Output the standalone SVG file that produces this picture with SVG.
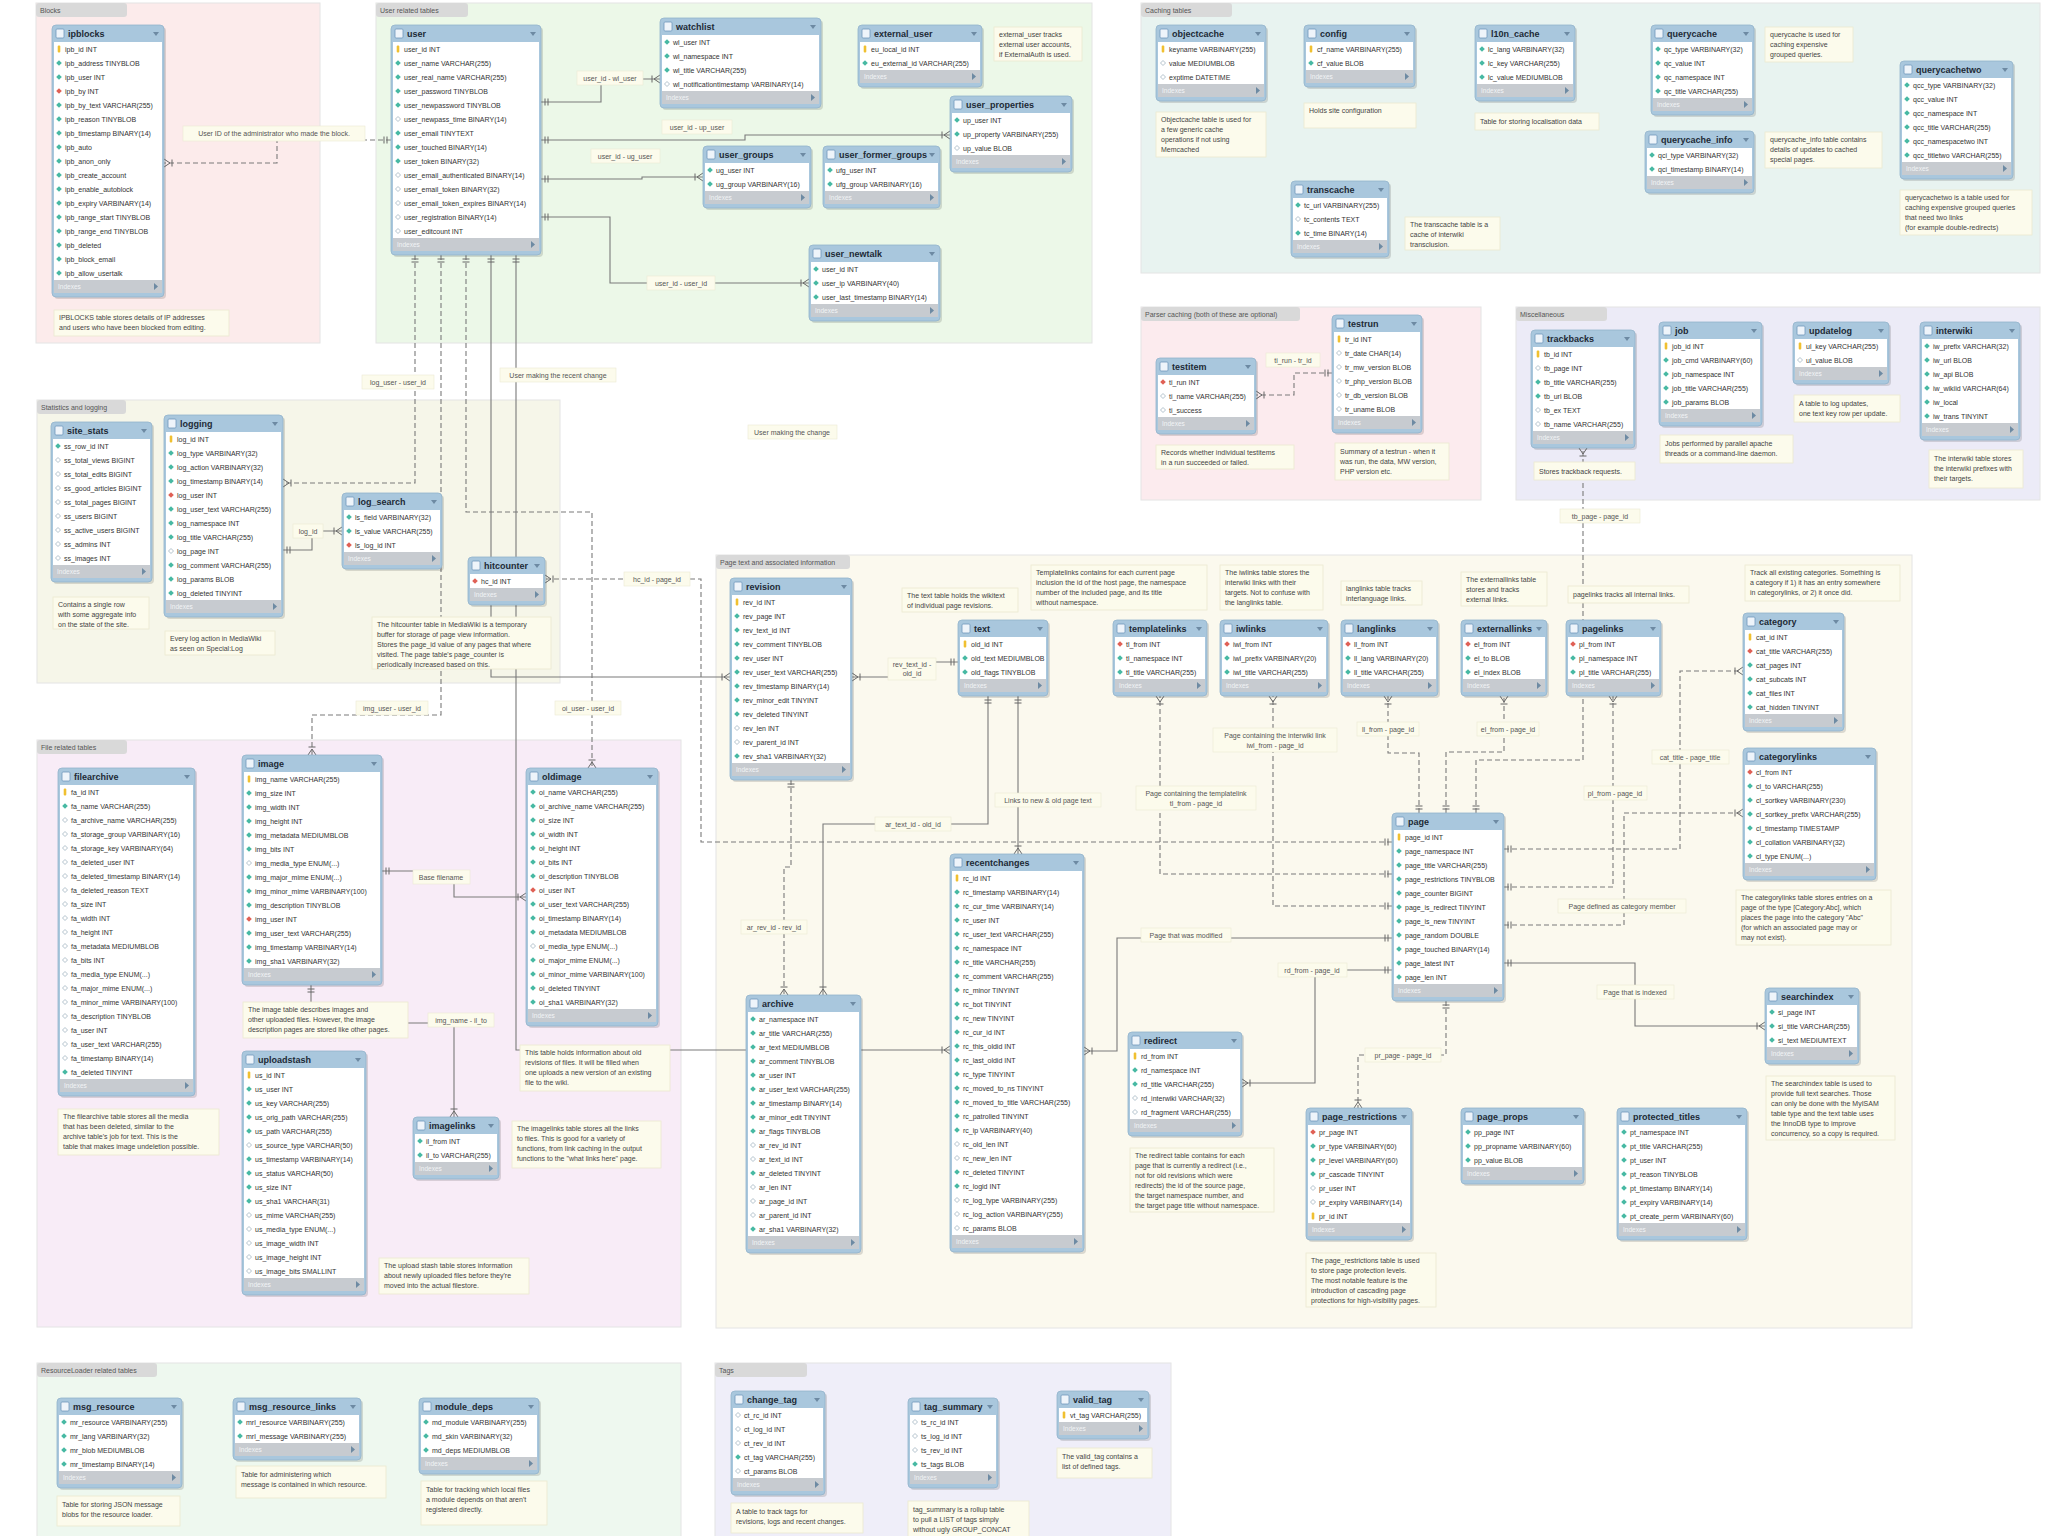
<svg xmlns="http://www.w3.org/2000/svg" xmlns:xlink="http://www.w3.org/1999/xlink" width="2048" height="1536" viewBox="0 0 2048 1536">
<style>
text{font-family:"Liberation Sans",Arial,sans-serif}
.gb{stroke:#e4e4e4;stroke-width:1}
.gt{fill:#d9d9d9}
.gtx{font-size:7px;fill:#555}
.sh{fill:#000;opacity:.13}
.tf{fill:#a9c7dd;stroke:#93b4cc;stroke-width:.8}
.tb{fill:#fff}
.ic{fill:#eef4fa;stroke:#6f98bb;stroke-width:.8}
.tn{font-size:9px;font-weight:bold;fill:#1d2a36}
.dd,.fa{fill:#6d8aa3}
.r{font-size:7px;fill:#333}
.ft{fill:#c7cbd0}
.ix{font-size:6.5px;fill:#f2f4f6}
.nb{fill:#fcfbec;stroke:#ebe9d0;stroke-width:.8}
.nt{font-size:7px;fill:#444}
.lb{fill:#fcfbec;stroke:#ebe9d4;stroke-width:.6}
.lt{font-size:7px;fill:#555}
.c,.cd{fill:none;stroke:#7a7a7a;stroke-width:1.1;marker-start:url(#mo);marker-end:url(#mf)}
.cd{stroke-dasharray:5 3}
</style>
<defs>
<rect id="k" x="-1.3" y="-3.5" width="2.6" height="7" rx="1" fill="#f0c030"/>
<path id="d" d="M0,-2.8L2.8,0L0,2.8L-2.8,0Z" fill="#47b9a3"/>
<path id="h" d="M0,-2.5L2.5,0L0,2.5L-2.5,0Z" fill="none" stroke="#9fb3bf" stroke-width=".8"/>
<path id="r" d="M0,-2.8L2.8,0L0,2.8L-2.8,0Z" fill="#e06055"/>
<marker id="mf" viewBox="0 0 12 10" refX="12" refY="5" markerWidth="12" markerHeight="10" markerUnits="userSpaceOnUse" orient="auto"><path d="M12,1L6,5L12,9M4,1.5V8.5" fill="none" stroke="#666" stroke-width="1"/></marker>
<marker id="mo" viewBox="0 0 10 10" refX="0" refY="5" markerWidth="10" markerHeight="10" markerUnits="userSpaceOnUse" orient="auto"><path d="M4,1.5V8.5M7,1.5V8.5" fill="none" stroke="#666" stroke-width="1"/></marker>
</defs>
<rect width="2048" height="1536" fill="#fff"/>

<g id="groups">
<rect class="gb" x="36" y="3" width="284" height="340" fill="#fcebeb"/><rect class="gt" x="36" y="3" width="91" height="14" rx="3"/><text class="gtx" x="40" y="13">Blocks</text>
<rect class="gb" x="376" y="3" width="716" height="340" fill="#ecf8e8"/><rect class="gt" x="376" y="3" width="92" height="14" rx="3"/><text class="gtx" x="380" y="13">User related tables</text>
<rect class="gb" x="1141" y="3" width="899" height="270" fill="#e8f3f0"/><rect class="gt" x="1141" y="3" width="91" height="14" rx="3"/><text class="gtx" x="1145" y="13">Caching tables</text>
<rect class="gb" x="1141" y="307" width="340" height="193" fill="#fcebee"/><rect class="gt" x="1141" y="307" width="159" height="14" rx="3"/><text class="gtx" x="1145" y="317">Parser caching (both of these are optional)</text>
<rect class="gb" x="1516" y="307" width="524" height="193" fill="#ecebf7"/><rect class="gt" x="1516" y="307" width="91" height="14" rx="3"/><text class="gtx" x="1520" y="317">Miscellaneous</text>
<rect class="gb" x="37" y="400" width="523" height="283" fill="#f6f6e9"/><rect class="gt" x="37" y="400" width="89" height="14" rx="3"/><text class="gtx" x="41" y="410">Statistics and logging</text>
<rect class="gb" x="716" y="555" width="1196" height="773" fill="#fbf9ee"/><rect class="gt" x="716" y="555" width="134" height="14" rx="3"/><text class="gtx" x="720" y="565">Page text and associated information</text>
<rect class="gb" x="37" y="740" width="644" height="587" fill="#f8ecf7"/><rect class="gt" x="37" y="740" width="90" height="14" rx="3"/><text class="gtx" x="41" y="750">File related tables</text>
<rect class="gb" x="37" y="1363" width="644" height="180" fill="#eef8ef"/><rect class="gt" x="37" y="1363" width="120" height="14" rx="3"/><text class="gtx" x="41" y="1373">ResourceLoader related tables</text>
<rect class="gb" x="715" y="1363" width="456" height="180" fill="#efeef9"/><rect class="gt" x="715" y="1363" width="92" height="14" rx="3"/><text class="gtx" x="719" y="1373">Tags</text>
</g>

<g id="connectors">
<path class="cd" d="M391,140H277V163H164"/>
<path class="c" d="M541,102H601V79H660"/>
<path class="c" d="M541,140H745V135H950"/>
<path class="c" d="M541,179H642V177H703"/>
<path class="c" d="M541,217H610V283H809"/>
<path class="cd" d="M415,255V483H283"/>
<path class="cd" d="M441,255V715H312V755"/>
<path class="cd" d="M466,255V512H592V768"/>
<path class="c" d="M491,255V677H730"/>
<path class="c" d="M516,255V1050H950"/>
<path class="c" d="M283,550H312V531H342"/>
<path class="cd" d="M1392,842H701V579H545"/>
<path class="c" d="M958,662H912V677H852"/>
<path class="c" d="M988,696V824H823V995"/>
<path class="c" d="M1018,696V854"/>
<path class="cd" d="M791,780V867H784V995"/>
<path class="cd" d="M1392,874H1160V696"/>
<path class="cd" d="M1392,906H1273V696"/>
<path class="cd" d="M1419,813V753H1388V696"/>
<path class="cd" d="M1446,813V752H1504V696"/>
<path class="cd" d="M1476,813V760H1583V448"/>
<path class="cd" d="M1504,887H1613V696"/>
<path class="cd" d="M1504,849H1680V671H1743"/>
<path class="cd" d="M1504,925H1624V813H1743"/>
<path class="c" d="M1392,938H1117V1051H1084"/>
<path class="c" d="M1392,970H1315V1083H1242"/>
<path class="c" d="M1504,963H1635V1026H1765"/>
<path class="cd" d="M1446,1001V1055H1358V1108"/>
<path class="cd" d="M1332,373H1294V395H1256"/>
<path class="c" d="M382,871H454V897H526"/>
<path class="c" d="M311,985V1023H454V1117"/>
<g id="conn-labels">
<rect class="lb" x="183" y="126" width="182" height="15"/><text class="lt" x="274" y="136" text-anchor="middle">User ID of the administrator who made the block.</text>
<rect class="lb" x="577" y="71" width="66" height="14"/><text class="lt" x="610" y="81" text-anchor="middle">user_id - wl_user</text>
<rect class="lb" x="662" y="120" width="70" height="14"/><text class="lt" x="697" y="130" text-anchor="middle">user_id - up_user</text>
<rect class="lb" x="591" y="149" width="69" height="14"/><text class="lt" x="625" y="159" text-anchor="middle">user_id - ug_user</text>
<rect class="lb" x="647" y="276" width="68" height="14"/><text class="lt" x="681" y="286" text-anchor="middle">user_id - user_id</text>
<rect class="lb" x="362" y="375" width="72" height="14"/><text class="lt" x="398" y="385" text-anchor="middle">log_user - user_id</text>
<rect class="lb" x="356" y="701" width="72" height="14"/><text class="lt" x="392" y="711" text-anchor="middle">img_user - user_id</text>
<rect class="lb" x="555" y="701" width="66" height="14"/><text class="lt" x="588" y="711" text-anchor="middle">oi_user - user_id</text>
<rect class="lb" x="500" y="368" width="116" height="14"/><text class="lt" x="558" y="378" text-anchor="middle">User making the recent change</text>
<rect class="lb" x="748" y="425" width="89" height="14"/><text class="lt" x="792" y="435" text-anchor="middle">User making the change</text>
<rect class="lb" x="293" y="524" width="30" height="14"/><text class="lt" x="308" y="534" text-anchor="middle">log_id</text>
<rect class="lb" x="624" y="572" width="66" height="14"/><text class="lt" x="657" y="582" text-anchor="middle">hc_id - page_id</text>
<rect class="lb" x="888" y="658" width="48" height="22"/><text class="lt" x="912" y="667" text-anchor="middle">rev_text_id -<tspan x="912" dy="9">old_id</tspan></text>
<rect class="lb" x="875" y="817" width="76" height="14"/><text class="lt" x="913" y="827" text-anchor="middle">ar_text_id - old_id</text>
<rect class="lb" x="995" y="793" width="106" height="14"/><text class="lt" x="1048" y="803" text-anchor="middle">Links to new &amp; old page text</text>
<rect class="lb" x="741" y="920" width="66" height="14"/><text class="lt" x="774" y="930" text-anchor="middle">ar_rev_id - rev_id</text>
<rect class="lb" x="1136" y="786" width="120" height="24"/><text class="lt" x="1196" y="796" text-anchor="middle">Page containing the templatelink<tspan x="1196" dy="10">tl_from - page_id</tspan></text>
<rect class="lb" x="1213" y="728" width="124" height="24"/><text class="lt" x="1275" y="738" text-anchor="middle">Page containing the interwiki link<tspan x="1275" dy="10">iwl_from - page_id</tspan></text>
<rect class="lb" x="1357" y="722" width="62" height="14"/><text class="lt" x="1388" y="732" text-anchor="middle">ll_from - page_id</text>
<rect class="lb" x="1477" y="722" width="62" height="14"/><text class="lt" x="1508" y="732" text-anchor="middle">el_from - page_id</text>
<rect class="lb" x="1560" y="509" width="80" height="14"/><text class="lt" x="1600" y="519" text-anchor="middle">tb_page - page_id</text>
<rect class="lb" x="1584" y="786" width="63" height="14"/><text class="lt" x="1615" y="796" text-anchor="middle">pl_from - page_id</text>
<rect class="lb" x="1652" y="750" width="77" height="14"/><text class="lt" x="1690" y="760" text-anchor="middle">cat_title - page_title</text>
<rect class="lb" x="1558" y="899" width="128" height="14"/><text class="lt" x="1622" y="909" text-anchor="middle">Page defined as category member</text>
<rect class="lb" x="1141" y="928" width="90" height="14"/><text class="lt" x="1186" y="938" text-anchor="middle">Page that was modified</text>
<rect class="lb" x="1278" y="963" width="69" height="14"/><text class="lt" x="1312" y="973" text-anchor="middle">rd_from - page_id</text>
<rect class="lb" x="1597" y="985" width="77" height="14"/><text class="lt" x="1635" y="995" text-anchor="middle">Page that is indexed</text>
<rect class="lb" x="1365" y="1048" width="76" height="14"/><text class="lt" x="1403" y="1058" text-anchor="middle">pr_page - page_id</text>
<rect class="lb" x="1266" y="353" width="54" height="14"/><text class="lt" x="1293" y="363" text-anchor="middle">ti_run - tr_id</text>
<rect class="lb" x="413" y="870" width="57" height="14"/><text class="lt" x="441" y="880" text-anchor="middle">Base filename</text>
<rect class="lb" x="428" y="1013" width="66" height="14"/><text class="lt" x="461" y="1023" text-anchor="middle">img_name - il_to</text>
</g>
</g>

<g id="t-ipblocks" transform="translate(52,25)">
<rect class="sh" x="2" y="2" width="112" height="272" rx="4"/><rect class="tf" width="112" height="272" rx="4"/><rect class="ic" x="4" y="4" width="8" height="9" rx="1"/><text class="tn" x="16" y="12">ipblocks</text><path class="dd" d="M101,7h6l-3,4z"/>
<rect class="tb" x="2" y="17" width="108" height="238"/>
<use href="#k" x="7" y="24"/><use href="#d" x="7" y="38"/><use href="#d" x="7" y="52"/><use href="#r" x="7" y="66"/><use href="#d" x="7" y="80"/><use href="#d" x="7" y="94"/><use href="#d" x="7" y="108"/><use href="#d" x="7" y="122"/><use href="#d" x="7" y="136"/><use href="#d" x="7" y="150"/><use href="#d" x="7" y="164"/><use href="#d" x="7" y="178"/><use href="#d" x="7" y="192"/><use href="#d" x="7" y="206"/><use href="#d" x="7" y="220"/><use href="#d" x="7" y="234"/><use href="#d" x="7" y="248"/>
<text class="r" x="13" y="27">ipb_id INT<tspan x="13" dy="14">ipb_address TINYBLOB</tspan><tspan x="13" dy="14">ipb_user INT</tspan><tspan x="13" dy="14">ipb_by INT</tspan><tspan x="13" dy="14">ipb_by_text VARCHAR(255)</tspan><tspan x="13" dy="14">ipb_reason TINYBLOB</tspan><tspan x="13" dy="14">ipb_timestamp BINARY(14)</tspan><tspan x="13" dy="14">ipb_auto</tspan><tspan x="13" dy="14">ipb_anon_only</tspan><tspan x="13" dy="14">ipb_create_account</tspan><tspan x="13" dy="14">ipb_enable_autoblock</tspan><tspan x="13" dy="14">ipb_expiry VARBINARY(14)</tspan><tspan x="13" dy="14">ipb_range_start TINYBLOB</tspan><tspan x="13" dy="14">ipb_range_end TINYBLOB</tspan><tspan x="13" dy="14">ipb_deleted</tspan><tspan x="13" dy="14">ipb_block_email</tspan><tspan x="13" dy="14">ipb_allow_usertalk</tspan></text>
<rect class="ft" x="2" y="255" width="108" height="13"/><text class="ix" x="6" y="264">Indexes</text><path class="fa" d="M102,258l4,3.5l-4,3.5z"/>
</g>

<g id="t-user" transform="translate(391,25)">
<rect class="sh" x="2" y="2" width="150" height="230" rx="4"/><rect class="tf" width="150" height="230" rx="4"/><rect class="ic" x="4" y="4" width="8" height="9" rx="1"/><text class="tn" x="16" y="12">user</text><path class="dd" d="M139,7h6l-3,4z"/>
<rect class="tb" x="2" y="17" width="146" height="196"/>
<use href="#k" x="7" y="24"/><use href="#d" x="7" y="38"/><use href="#d" x="7" y="52"/><use href="#d" x="7" y="66"/><use href="#d" x="7" y="80"/><use href="#h" x="7" y="94"/><use href="#d" x="7" y="108"/><use href="#d" x="7" y="122"/><use href="#d" x="7" y="136"/><use href="#h" x="7" y="150"/><use href="#h" x="7" y="164"/><use href="#h" x="7" y="178"/><use href="#h" x="7" y="192"/><use href="#h" x="7" y="206"/>
<text class="r" x="13" y="27">user_id INT<tspan x="13" dy="14">user_name VARCHAR(255)</tspan><tspan x="13" dy="14">user_real_name VARCHAR(255)</tspan><tspan x="13" dy="14">user_password TINYBLOB</tspan><tspan x="13" dy="14">user_newpassword TINYBLOB</tspan><tspan x="13" dy="14">user_newpass_time BINARY(14)</tspan><tspan x="13" dy="14">user_email TINYTEXT</tspan><tspan x="13" dy="14">user_touched BINARY(14)</tspan><tspan x="13" dy="14">user_token BINARY(32)</tspan><tspan x="13" dy="14">user_email_authenticated BINARY(14)</tspan><tspan x="13" dy="14">user_email_token BINARY(32)</tspan><tspan x="13" dy="14">user_email_token_expires BINARY(14)</tspan><tspan x="13" dy="14">user_registration BINARY(14)</tspan><tspan x="13" dy="14">user_editcount INT</tspan></text>
<rect class="ft" x="2" y="213" width="146" height="13"/><text class="ix" x="6" y="222">Indexes</text><path class="fa" d="M140,216l4,3.5l-4,3.5z"/>
</g>

<g id="t-watchlist" transform="translate(660,18)">
<rect class="sh" x="2" y="2" width="161" height="90" rx="4"/><rect class="tf" width="161" height="90" rx="4"/><rect class="ic" x="4" y="4" width="8" height="9" rx="1"/><text class="tn" x="16" y="12">watchlist</text><path class="dd" d="M150,7h6l-3,4z"/>
<rect class="tb" x="2" y="17" width="157" height="56"/>
<use href="#d" x="7" y="24"/><use href="#d" x="7" y="38"/><use href="#d" x="7" y="52"/><use href="#h" x="7" y="66"/>
<text class="r" x="13" y="27">wl_user INT<tspan x="13" dy="14">wl_namespace INT</tspan><tspan x="13" dy="14">wl_title VARCHAR(255)</tspan><tspan x="13" dy="14">wl_notificationtimestamp VARBINARY(14)</tspan></text>
<rect class="ft" x="2" y="73" width="157" height="13"/><text class="ix" x="6" y="82">Indexes</text><path class="fa" d="M151,76l4,3.5l-4,3.5z"/>
</g>

<g id="t-external_user" transform="translate(858,25)">
<rect class="sh" x="2" y="2" width="124" height="62" rx="4"/><rect class="tf" width="124" height="62" rx="4"/><rect class="ic" x="4" y="4" width="8" height="9" rx="1"/><text class="tn" x="16" y="12">external_user</text><path class="dd" d="M113,7h6l-3,4z"/>
<rect class="tb" x="2" y="17" width="120" height="28"/>
<use href="#k" x="7" y="24"/><use href="#d" x="7" y="38"/>
<text class="r" x="13" y="27">eu_local_id INT<tspan x="13" dy="14">eu_external_id VARCHAR(255)</tspan></text>
<rect class="ft" x="2" y="45" width="120" height="13"/><text class="ix" x="6" y="54">Indexes</text><path class="fa" d="M114,48l4,3.5l-4,3.5z"/>
</g>

<g id="t-user_properties" transform="translate(950,96)">
<rect class="sh" x="2" y="2" width="122" height="76" rx="4"/><rect class="tf" width="122" height="76" rx="4"/><rect class="ic" x="4" y="4" width="8" height="9" rx="1"/><text class="tn" x="16" y="12">user_properties</text><path class="dd" d="M111,7h6l-3,4z"/>
<rect class="tb" x="2" y="17" width="118" height="42"/>
<use href="#d" x="7" y="24"/><use href="#d" x="7" y="38"/><use href="#h" x="7" y="52"/>
<text class="r" x="13" y="27">up_user INT<tspan x="13" dy="14">up_property VARBINARY(255)</tspan><tspan x="13" dy="14">up_value BLOB</tspan></text>
<rect class="ft" x="2" y="59" width="118" height="13"/><text class="ix" x="6" y="68">Indexes</text><path class="fa" d="M112,62l4,3.5l-4,3.5z"/>
</g>

<g id="t-user_groups" transform="translate(703,146)">
<rect class="sh" x="2" y="2" width="108" height="62" rx="4"/><rect class="tf" width="108" height="62" rx="4"/><rect class="ic" x="4" y="4" width="8" height="9" rx="1"/><text class="tn" x="16" y="12">user_groups</text><path class="dd" d="M97,7h6l-3,4z"/>
<rect class="tb" x="2" y="17" width="104" height="28"/>
<use href="#d" x="7" y="24"/><use href="#d" x="7" y="38"/>
<text class="r" x="13" y="27">ug_user INT<tspan x="13" dy="14">ug_group VARBINARY(16)</tspan></text>
<rect class="ft" x="2" y="45" width="104" height="13"/><text class="ix" x="6" y="54">Indexes</text><path class="fa" d="M98,48l4,3.5l-4,3.5z"/>
</g>

<g id="t-user_former_groups" transform="translate(823,146)">
<rect class="sh" x="2" y="2" width="117" height="62" rx="4"/><rect class="tf" width="117" height="62" rx="4"/><rect class="ic" x="4" y="4" width="8" height="9" rx="1"/><text class="tn" x="16" y="12">user_former_groups</text><path class="dd" d="M106,7h6l-3,4z"/>
<rect class="tb" x="2" y="17" width="113" height="28"/>
<use href="#d" x="7" y="24"/><use href="#d" x="7" y="38"/>
<text class="r" x="13" y="27">ufg_user INT<tspan x="13" dy="14">ufg_group VARBINARY(16)</tspan></text>
<rect class="ft" x="2" y="45" width="113" height="13"/><text class="ix" x="6" y="54">Indexes</text><path class="fa" d="M107,48l4,3.5l-4,3.5z"/>
</g>

<g id="t-user_newtalk" transform="translate(809,245)">
<rect class="sh" x="2" y="2" width="131" height="76" rx="4"/><rect class="tf" width="131" height="76" rx="4"/><rect class="ic" x="4" y="4" width="8" height="9" rx="1"/><text class="tn" x="16" y="12">user_newtalk</text><path class="dd" d="M120,7h6l-3,4z"/>
<rect class="tb" x="2" y="17" width="127" height="42"/>
<use href="#d" x="7" y="24"/><use href="#d" x="7" y="38"/><use href="#d" x="7" y="52"/>
<text class="r" x="13" y="27">user_id INT<tspan x="13" dy="14">user_ip VARBINARY(40)</tspan><tspan x="13" dy="14">user_last_timestamp BINARY(14)</tspan></text>
<rect class="ft" x="2" y="59" width="127" height="13"/><text class="ix" x="6" y="68">Indexes</text><path class="fa" d="M121,62l4,3.5l-4,3.5z"/>
</g>

<g id="t-objectcache" transform="translate(1156,25)">
<rect class="sh" x="2" y="2" width="110" height="76" rx="4"/><rect class="tf" width="110" height="76" rx="4"/><rect class="ic" x="4" y="4" width="8" height="9" rx="1"/><text class="tn" x="16" y="12">objectcache</text><path class="dd" d="M99,7h6l-3,4z"/>
<rect class="tb" x="2" y="17" width="106" height="42"/>
<use href="#k" x="7" y="24"/><use href="#h" x="7" y="38"/><use href="#h" x="7" y="52"/>
<text class="r" x="13" y="27">keyname VARBINARY(255)<tspan x="13" dy="14">value MEDIUMBLOB</tspan><tspan x="13" dy="14">exptime DATETIME</tspan></text>
<rect class="ft" x="2" y="59" width="106" height="13"/><text class="ix" x="6" y="68">Indexes</text><path class="fa" d="M100,62l4,3.5l-4,3.5z"/>
</g>

<g id="t-config" transform="translate(1304,25)">
<rect class="sh" x="2" y="2" width="111" height="62" rx="4"/><rect class="tf" width="111" height="62" rx="4"/><rect class="ic" x="4" y="4" width="8" height="9" rx="1"/><text class="tn" x="16" y="12">config</text><path class="dd" d="M100,7h6l-3,4z"/>
<rect class="tb" x="2" y="17" width="107" height="28"/>
<use href="#k" x="7" y="24"/><use href="#d" x="7" y="38"/>
<text class="r" x="13" y="27">cf_name VARBINARY(255)<tspan x="13" dy="14">cf_value BLOB</tspan></text>
<rect class="ft" x="2" y="45" width="107" height="13"/><text class="ix" x="6" y="54">Indexes</text><path class="fa" d="M101,48l4,3.5l-4,3.5z"/>
</g>

<g id="t-l10n_cache" transform="translate(1475,25)">
<rect class="sh" x="2" y="2" width="100" height="76" rx="4"/><rect class="tf" width="100" height="76" rx="4"/><rect class="ic" x="4" y="4" width="8" height="9" rx="1"/><text class="tn" x="16" y="12">l10n_cache</text><path class="dd" d="M89,7h6l-3,4z"/>
<rect class="tb" x="2" y="17" width="96" height="42"/>
<use href="#d" x="7" y="24"/><use href="#d" x="7" y="38"/><use href="#d" x="7" y="52"/>
<text class="r" x="13" y="27">lc_lang VARBINARY(32)<tspan x="13" dy="14">lc_key VARCHAR(255)</tspan><tspan x="13" dy="14">lc_value MEDIUMBLOB</tspan></text>
<rect class="ft" x="2" y="59" width="96" height="13"/><text class="ix" x="6" y="68">Indexes</text><path class="fa" d="M90,62l4,3.5l-4,3.5z"/>
</g>

<g id="t-querycache" transform="translate(1651,25)">
<rect class="sh" x="2" y="2" width="103" height="90" rx="4"/><rect class="tf" width="103" height="90" rx="4"/><rect class="ic" x="4" y="4" width="8" height="9" rx="1"/><text class="tn" x="16" y="12">querycache</text><path class="dd" d="M92,7h6l-3,4z"/>
<rect class="tb" x="2" y="17" width="99" height="56"/>
<use href="#d" x="7" y="24"/><use href="#d" x="7" y="38"/><use href="#d" x="7" y="52"/><use href="#d" x="7" y="66"/>
<text class="r" x="13" y="27">qc_type VARBINARY(32)<tspan x="13" dy="14">qc_value INT</tspan><tspan x="13" dy="14">qc_namespace INT</tspan><tspan x="13" dy="14">qc_title VARCHAR(255)</tspan></text>
<rect class="ft" x="2" y="73" width="99" height="13"/><text class="ix" x="6" y="82">Indexes</text><path class="fa" d="M93,76l4,3.5l-4,3.5z"/>
</g>

<g id="t-querycache_info" transform="translate(1645,131)">
<rect class="sh" x="2" y="2" width="109" height="62" rx="4"/><rect class="tf" width="109" height="62" rx="4"/><rect class="ic" x="4" y="4" width="8" height="9" rx="1"/><text class="tn" x="16" y="12">querycache_info</text><path class="dd" d="M98,7h6l-3,4z"/>
<rect class="tb" x="2" y="17" width="105" height="28"/>
<use href="#d" x="7" y="24"/><use href="#d" x="7" y="38"/>
<text class="r" x="13" y="27">qci_type VARBINARY(32)<tspan x="13" dy="14">qci_timestamp BINARY(14)</tspan></text>
<rect class="ft" x="2" y="45" width="105" height="13"/><text class="ix" x="6" y="54">Indexes</text><path class="fa" d="M99,48l4,3.5l-4,3.5z"/>
</g>

<g id="t-querycachetwo" transform="translate(1900,61)">
<rect class="sh" x="2" y="2" width="113" height="118" rx="4"/><rect class="tf" width="113" height="118" rx="4"/><rect class="ic" x="4" y="4" width="8" height="9" rx="1"/><text class="tn" x="16" y="12">querycachetwo</text><path class="dd" d="M102,7h6l-3,4z"/>
<rect class="tb" x="2" y="17" width="109" height="84"/>
<use href="#d" x="7" y="24"/><use href="#d" x="7" y="38"/><use href="#d" x="7" y="52"/><use href="#d" x="7" y="66"/><use href="#d" x="7" y="80"/><use href="#d" x="7" y="94"/>
<text class="r" x="13" y="27">qcc_type VARBINARY(32)<tspan x="13" dy="14">qcc_value INT</tspan><tspan x="13" dy="14">qcc_namespace INT</tspan><tspan x="13" dy="14">qcc_title VARCHAR(255)</tspan><tspan x="13" dy="14">qcc_namespacetwo INT</tspan><tspan x="13" dy="14">qcc_titletwo VARCHAR(255)</tspan></text>
<rect class="ft" x="2" y="101" width="109" height="13"/><text class="ix" x="6" y="110">Indexes</text><path class="fa" d="M103,104l4,3.5l-4,3.5z"/>
</g>

<g id="t-transcache" transform="translate(1291,181)">
<rect class="sh" x="2" y="2" width="98" height="76" rx="4"/><rect class="tf" width="98" height="76" rx="4"/><rect class="ic" x="4" y="4" width="8" height="9" rx="1"/><text class="tn" x="16" y="12">transcache</text><path class="dd" d="M87,7h6l-3,4z"/>
<rect class="tb" x="2" y="17" width="94" height="42"/>
<use href="#d" x="7" y="24"/><use href="#h" x="7" y="38"/><use href="#d" x="7" y="52"/>
<text class="r" x="13" y="27">tc_url VARBINARY(255)<tspan x="13" dy="14">tc_contents TEXT</tspan><tspan x="13" dy="14">tc_time BINARY(14)</tspan></text>
<rect class="ft" x="2" y="59" width="94" height="13"/><text class="ix" x="6" y="68">Indexes</text><path class="fa" d="M88,62l4,3.5l-4,3.5z"/>
</g>

<g id="t-testitem" transform="translate(1156,358)">
<rect class="sh" x="2" y="2" width="100" height="76" rx="4"/><rect class="tf" width="100" height="76" rx="4"/><rect class="ic" x="4" y="4" width="8" height="9" rx="1"/><text class="tn" x="16" y="12">testitem</text><path class="dd" d="M89,7h6l-3,4z"/>
<rect class="tb" x="2" y="17" width="96" height="42"/>
<use href="#r" x="7" y="24"/><use href="#h" x="7" y="38"/><use href="#h" x="7" y="52"/>
<text class="r" x="13" y="27">ti_run INT<tspan x="13" dy="14">ti_name VARCHAR(255)</tspan><tspan x="13" dy="14">ti_success</tspan></text>
<rect class="ft" x="2" y="59" width="96" height="13"/><text class="ix" x="6" y="68">Indexes</text><path class="fa" d="M90,62l4,3.5l-4,3.5z"/>
</g>

<g id="t-testrun" transform="translate(1332,315)">
<rect class="sh" x="2" y="2" width="90" height="118" rx="4"/><rect class="tf" width="90" height="118" rx="4"/><rect class="ic" x="4" y="4" width="8" height="9" rx="1"/><text class="tn" x="16" y="12">testrun</text><path class="dd" d="M79,7h6l-3,4z"/>
<rect class="tb" x="2" y="17" width="86" height="84"/>
<use href="#k" x="7" y="24"/><use href="#h" x="7" y="38"/><use href="#h" x="7" y="52"/><use href="#h" x="7" y="66"/><use href="#h" x="7" y="80"/><use href="#h" x="7" y="94"/>
<text class="r" x="13" y="27">tr_id INT<tspan x="13" dy="14">tr_date CHAR(14)</tspan><tspan x="13" dy="14">tr_mw_version BLOB</tspan><tspan x="13" dy="14">tr_php_version BLOB</tspan><tspan x="13" dy="14">tr_db_version BLOB</tspan><tspan x="13" dy="14">tr_uname BLOB</tspan></text>
<rect class="ft" x="2" y="101" width="86" height="13"/><text class="ix" x="6" y="110">Indexes</text><path class="fa" d="M80,104l4,3.5l-4,3.5z"/>
</g>

<g id="t-trackbacks" transform="translate(1531,330)">
<rect class="sh" x="2" y="2" width="104" height="118" rx="4"/><rect class="tf" width="104" height="118" rx="4"/><rect class="ic" x="4" y="4" width="8" height="9" rx="1"/><text class="tn" x="16" y="12">trackbacks</text><path class="dd" d="M93,7h6l-3,4z"/>
<rect class="tb" x="2" y="17" width="100" height="84"/>
<use href="#k" x="7" y="24"/><use href="#h" x="7" y="38"/><use href="#d" x="7" y="52"/><use href="#d" x="7" y="66"/><use href="#h" x="7" y="80"/><use href="#h" x="7" y="94"/>
<text class="r" x="13" y="27">tb_id INT<tspan x="13" dy="14">tb_page INT</tspan><tspan x="13" dy="14">tb_title VARCHAR(255)</tspan><tspan x="13" dy="14">tb_url BLOB</tspan><tspan x="13" dy="14">tb_ex TEXT</tspan><tspan x="13" dy="14">tb_name VARCHAR(255)</tspan></text>
<rect class="ft" x="2" y="101" width="100" height="13"/><text class="ix" x="6" y="110">Indexes</text><path class="fa" d="M94,104l4,3.5l-4,3.5z"/>
</g>

<g id="t-job" transform="translate(1659,322)">
<rect class="sh" x="2" y="2" width="103" height="104" rx="4"/><rect class="tf" width="103" height="104" rx="4"/><rect class="ic" x="4" y="4" width="8" height="9" rx="1"/><text class="tn" x="16" y="12">job</text><path class="dd" d="M92,7h6l-3,4z"/>
<rect class="tb" x="2" y="17" width="99" height="70"/>
<use href="#k" x="7" y="24"/><use href="#d" x="7" y="38"/><use href="#d" x="7" y="52"/><use href="#d" x="7" y="66"/><use href="#d" x="7" y="80"/>
<text class="r" x="13" y="27">job_id INT<tspan x="13" dy="14">job_cmd VARBINARY(60)</tspan><tspan x="13" dy="14">job_namespace INT</tspan><tspan x="13" dy="14">job_title VARCHAR(255)</tspan><tspan x="13" dy="14">job_params BLOB</tspan></text>
<rect class="ft" x="2" y="87" width="99" height="13"/><text class="ix" x="6" y="96">Indexes</text><path class="fa" d="M93,90l4,3.5l-4,3.5z"/>
</g>

<g id="t-updatelog" transform="translate(1793,322)">
<rect class="sh" x="2" y="2" width="96" height="62" rx="4"/><rect class="tf" width="96" height="62" rx="4"/><rect class="ic" x="4" y="4" width="8" height="9" rx="1"/><text class="tn" x="16" y="12">updatelog</text><path class="dd" d="M85,7h6l-3,4z"/>
<rect class="tb" x="2" y="17" width="92" height="28"/>
<use href="#k" x="7" y="24"/><use href="#h" x="7" y="38"/>
<text class="r" x="13" y="27">ul_key VARCHAR(255)<tspan x="13" dy="14">ul_value BLOB</tspan></text>
<rect class="ft" x="2" y="45" width="92" height="13"/><text class="ix" x="6" y="54">Indexes</text><path class="fa" d="M86,48l4,3.5l-4,3.5z"/>
</g>

<g id="t-interwiki" transform="translate(1920,322)">
<rect class="sh" x="2" y="2" width="100" height="118" rx="4"/><rect class="tf" width="100" height="118" rx="4"/><rect class="ic" x="4" y="4" width="8" height="9" rx="1"/><text class="tn" x="16" y="12">interwiki</text><path class="dd" d="M89,7h6l-3,4z"/>
<rect class="tb" x="2" y="17" width="96" height="84"/>
<use href="#d" x="7" y="24"/><use href="#d" x="7" y="38"/><use href="#d" x="7" y="52"/><use href="#d" x="7" y="66"/><use href="#d" x="7" y="80"/><use href="#d" x="7" y="94"/>
<text class="r" x="13" y="27">iw_prefix VARCHAR(32)<tspan x="13" dy="14">iw_url BLOB</tspan><tspan x="13" dy="14">iw_api BLOB</tspan><tspan x="13" dy="14">iw_wikiid VARCHAR(64)</tspan><tspan x="13" dy="14">iw_local</tspan><tspan x="13" dy="14">iw_trans TINYINT</tspan></text>
<rect class="ft" x="2" y="101" width="96" height="13"/><text class="ix" x="6" y="110">Indexes</text><path class="fa" d="M90,104l4,3.5l-4,3.5z"/>
</g>

<g id="t-site_stats" transform="translate(51,422)">
<rect class="sh" x="2" y="2" width="101" height="160" rx="4"/><rect class="tf" width="101" height="160" rx="4"/><rect class="ic" x="4" y="4" width="8" height="9" rx="1"/><text class="tn" x="16" y="12">site_stats</text><path class="dd" d="M90,7h6l-3,4z"/>
<rect class="tb" x="2" y="17" width="97" height="126"/>
<use href="#d" x="7" y="24"/><use href="#h" x="7" y="38"/><use href="#h" x="7" y="52"/><use href="#h" x="7" y="66"/><use href="#h" x="7" y="80"/><use href="#h" x="7" y="94"/><use href="#h" x="7" y="108"/><use href="#h" x="7" y="122"/><use href="#h" x="7" y="136"/>
<text class="r" x="13" y="27">ss_row_id INT<tspan x="13" dy="14">ss_total_views BIGINT</tspan><tspan x="13" dy="14">ss_total_edits BIGINT</tspan><tspan x="13" dy="14">ss_good_articles BIGINT</tspan><tspan x="13" dy="14">ss_total_pages BIGINT</tspan><tspan x="13" dy="14">ss_users BIGINT</tspan><tspan x="13" dy="14">ss_active_users BIGINT</tspan><tspan x="13" dy="14">ss_admins INT</tspan><tspan x="13" dy="14">ss_images INT</tspan></text>
<rect class="ft" x="2" y="143" width="97" height="13"/><text class="ix" x="6" y="152">Indexes</text><path class="fa" d="M91,146l4,3.5l-4,3.5z"/>
</g>

<g id="t-logging" transform="translate(164,415)">
<rect class="sh" x="2" y="2" width="119" height="202" rx="4"/><rect class="tf" width="119" height="202" rx="4"/><rect class="ic" x="4" y="4" width="8" height="9" rx="1"/><text class="tn" x="16" y="12">logging</text><path class="dd" d="M108,7h6l-3,4z"/>
<rect class="tb" x="2" y="17" width="115" height="168"/>
<use href="#k" x="7" y="24"/><use href="#d" x="7" y="38"/><use href="#d" x="7" y="52"/><use href="#d" x="7" y="66"/><use href="#r" x="7" y="80"/><use href="#d" x="7" y="94"/><use href="#d" x="7" y="108"/><use href="#d" x="7" y="122"/><use href="#h" x="7" y="136"/><use href="#d" x="7" y="150"/><use href="#d" x="7" y="164"/><use href="#d" x="7" y="178"/>
<text class="r" x="13" y="27">log_id INT<tspan x="13" dy="14">log_type VARBINARY(32)</tspan><tspan x="13" dy="14">log_action VARBINARY(32)</tspan><tspan x="13" dy="14">log_timestamp BINARY(14)</tspan><tspan x="13" dy="14">log_user INT</tspan><tspan x="13" dy="14">log_user_text VARCHAR(255)</tspan><tspan x="13" dy="14">log_namespace INT</tspan><tspan x="13" dy="14">log_title VARCHAR(255)</tspan><tspan x="13" dy="14">log_page INT</tspan><tspan x="13" dy="14">log_comment VARCHAR(255)</tspan><tspan x="13" dy="14">log_params BLOB</tspan><tspan x="13" dy="14">log_deleted TINYINT</tspan></text>
<rect class="ft" x="2" y="185" width="115" height="13"/><text class="ix" x="6" y="194">Indexes</text><path class="fa" d="M109,188l4,3.5l-4,3.5z"/>
</g>

<g id="t-log_search" transform="translate(342,493)">
<rect class="sh" x="2" y="2" width="100" height="76" rx="4"/><rect class="tf" width="100" height="76" rx="4"/><rect class="ic" x="4" y="4" width="8" height="9" rx="1"/><text class="tn" x="16" y="12">log_search</text><path class="dd" d="M89,7h6l-3,4z"/>
<rect class="tb" x="2" y="17" width="96" height="42"/>
<use href="#d" x="7" y="24"/><use href="#d" x="7" y="38"/><use href="#r" x="7" y="52"/>
<text class="r" x="13" y="27">ls_field VARBINARY(32)<tspan x="13" dy="14">ls_value VARCHAR(255)</tspan><tspan x="13" dy="14">ls_log_id INT</tspan></text>
<rect class="ft" x="2" y="59" width="96" height="13"/><text class="ix" x="6" y="68">Indexes</text><path class="fa" d="M90,62l4,3.5l-4,3.5z"/>
</g>

<g id="t-hitcounter" transform="translate(468,557)">
<rect class="sh" x="2" y="2" width="77" height="48" rx="4"/><rect class="tf" width="77" height="48" rx="4"/><rect class="ic" x="4" y="4" width="8" height="9" rx="1"/><text class="tn" x="16" y="12">hitcounter</text><path class="dd" d="M66,7h6l-3,4z"/>
<rect class="tb" x="2" y="17" width="73" height="14"/>
<use href="#r" x="7" y="24"/>
<text class="r" x="13" y="27">hc_id INT</text>
<rect class="ft" x="2" y="31" width="73" height="13"/><text class="ix" x="6" y="40">Indexes</text><path class="fa" d="M67,34l4,3.5l-4,3.5z"/>
</g>

<g id="t-revision" transform="translate(730,578)">
<rect class="sh" x="2" y="2" width="122" height="202" rx="4"/><rect class="tf" width="122" height="202" rx="4"/><rect class="ic" x="4" y="4" width="8" height="9" rx="1"/><text class="tn" x="16" y="12">revision</text><path class="dd" d="M111,7h6l-3,4z"/>
<rect class="tb" x="2" y="17" width="118" height="168"/>
<use href="#k" x="7" y="24"/><use href="#d" x="7" y="38"/><use href="#d" x="7" y="52"/><use href="#d" x="7" y="66"/><use href="#d" x="7" y="80"/><use href="#d" x="7" y="94"/><use href="#d" x="7" y="108"/><use href="#d" x="7" y="122"/><use href="#d" x="7" y="136"/><use href="#h" x="7" y="150"/><use href="#h" x="7" y="164"/><use href="#d" x="7" y="178"/>
<text class="r" x="13" y="27">rev_id INT<tspan x="13" dy="14">rev_page INT</tspan><tspan x="13" dy="14">rev_text_id INT</tspan><tspan x="13" dy="14">rev_comment TINYBLOB</tspan><tspan x="13" dy="14">rev_user INT</tspan><tspan x="13" dy="14">rev_user_text VARCHAR(255)</tspan><tspan x="13" dy="14">rev_timestamp BINARY(14)</tspan><tspan x="13" dy="14">rev_minor_edit TINYINT</tspan><tspan x="13" dy="14">rev_deleted TINYINT</tspan><tspan x="13" dy="14">rev_len INT</tspan><tspan x="13" dy="14">rev_parent_id INT</tspan><tspan x="13" dy="14">rev_sha1 VARBINARY(32)</tspan></text>
<rect class="ft" x="2" y="185" width="118" height="13"/><text class="ix" x="6" y="194">Indexes</text><path class="fa" d="M112,188l4,3.5l-4,3.5z"/>
</g>

<g id="t-text" transform="translate(958,620)">
<rect class="sh" x="2" y="2" width="90" height="76" rx="4"/><rect class="tf" width="90" height="76" rx="4"/><rect class="ic" x="4" y="4" width="8" height="9" rx="1"/><text class="tn" x="16" y="12">text</text><path class="dd" d="M79,7h6l-3,4z"/>
<rect class="tb" x="2" y="17" width="86" height="42"/>
<use href="#k" x="7" y="24"/><use href="#d" x="7" y="38"/><use href="#d" x="7" y="52"/>
<text class="r" x="13" y="27">old_id INT<tspan x="13" dy="14">old_text MEDIUMBLOB</tspan><tspan x="13" dy="14">old_flags TINYBLOB</tspan></text>
<rect class="ft" x="2" y="59" width="86" height="13"/><text class="ix" x="6" y="68">Indexes</text><path class="fa" d="M80,62l4,3.5l-4,3.5z"/>
</g>

<g id="t-templatelinks" transform="translate(1113,620)">
<rect class="sh" x="2" y="2" width="94" height="76" rx="4"/><rect class="tf" width="94" height="76" rx="4"/><rect class="ic" x="4" y="4" width="8" height="9" rx="1"/><text class="tn" x="16" y="12">templatelinks</text><path class="dd" d="M83,7h6l-3,4z"/>
<rect class="tb" x="2" y="17" width="90" height="42"/>
<use href="#r" x="7" y="24"/><use href="#d" x="7" y="38"/><use href="#d" x="7" y="52"/>
<text class="r" x="13" y="27">tl_from INT<tspan x="13" dy="14">tl_namespace INT</tspan><tspan x="13" dy="14">tl_title VARCHAR(255)</tspan></text>
<rect class="ft" x="2" y="59" width="90" height="13"/><text class="ix" x="6" y="68">Indexes</text><path class="fa" d="M84,62l4,3.5l-4,3.5z"/>
</g>

<g id="t-iwlinks" transform="translate(1220,620)">
<rect class="sh" x="2" y="2" width="108" height="76" rx="4"/><rect class="tf" width="108" height="76" rx="4"/><rect class="ic" x="4" y="4" width="8" height="9" rx="1"/><text class="tn" x="16" y="12">iwlinks</text><path class="dd" d="M97,7h6l-3,4z"/>
<rect class="tb" x="2" y="17" width="104" height="42"/>
<use href="#r" x="7" y="24"/><use href="#d" x="7" y="38"/><use href="#d" x="7" y="52"/>
<text class="r" x="13" y="27">iwl_from INT<tspan x="13" dy="14">iwl_prefix VARBINARY(20)</tspan><tspan x="13" dy="14">iwl_title VARCHAR(255)</tspan></text>
<rect class="ft" x="2" y="59" width="104" height="13"/><text class="ix" x="6" y="68">Indexes</text><path class="fa" d="M98,62l4,3.5l-4,3.5z"/>
</g>

<g id="t-langlinks" transform="translate(1341,620)">
<rect class="sh" x="2" y="2" width="97" height="76" rx="4"/><rect class="tf" width="97" height="76" rx="4"/><rect class="ic" x="4" y="4" width="8" height="9" rx="1"/><text class="tn" x="16" y="12">langlinks</text><path class="dd" d="M86,7h6l-3,4z"/>
<rect class="tb" x="2" y="17" width="93" height="42"/>
<use href="#r" x="7" y="24"/><use href="#d" x="7" y="38"/><use href="#d" x="7" y="52"/>
<text class="r" x="13" y="27">ll_from INT<tspan x="13" dy="14">ll_lang VARBINARY(20)</tspan><tspan x="13" dy="14">ll_title VARCHAR(255)</tspan></text>
<rect class="ft" x="2" y="59" width="93" height="13"/><text class="ix" x="6" y="68">Indexes</text><path class="fa" d="M87,62l4,3.5l-4,3.5z"/>
</g>

<g id="t-externallinks" transform="translate(1461,620)">
<rect class="sh" x="2" y="2" width="86" height="76" rx="4"/><rect class="tf" width="86" height="76" rx="4"/><rect class="ic" x="4" y="4" width="8" height="9" rx="1"/><text class="tn" x="16" y="12">externallinks</text><path class="dd" d="M75,7h6l-3,4z"/>
<rect class="tb" x="2" y="17" width="82" height="42"/>
<use href="#r" x="7" y="24"/><use href="#d" x="7" y="38"/><use href="#d" x="7" y="52"/>
<text class="r" x="13" y="27">el_from INT<tspan x="13" dy="14">el_to BLOB</tspan><tspan x="13" dy="14">el_index BLOB</tspan></text>
<rect class="ft" x="2" y="59" width="82" height="13"/><text class="ix" x="6" y="68">Indexes</text><path class="fa" d="M76,62l4,3.5l-4,3.5z"/>
</g>

<g id="t-pagelinks" transform="translate(1566,620)">
<rect class="sh" x="2" y="2" width="95" height="76" rx="4"/><rect class="tf" width="95" height="76" rx="4"/><rect class="ic" x="4" y="4" width="8" height="9" rx="1"/><text class="tn" x="16" y="12">pagelinks</text><path class="dd" d="M84,7h6l-3,4z"/>
<rect class="tb" x="2" y="17" width="91" height="42"/>
<use href="#r" x="7" y="24"/><use href="#d" x="7" y="38"/><use href="#d" x="7" y="52"/>
<text class="r" x="13" y="27">pl_from INT<tspan x="13" dy="14">pl_namespace INT</tspan><tspan x="13" dy="14">pl_title VARCHAR(255)</tspan></text>
<rect class="ft" x="2" y="59" width="91" height="13"/><text class="ix" x="6" y="68">Indexes</text><path class="fa" d="M85,62l4,3.5l-4,3.5z"/>
</g>

<g id="t-category" transform="translate(1743,613)">
<rect class="sh" x="2" y="2" width="101" height="118" rx="4"/><rect class="tf" width="101" height="118" rx="4"/><rect class="ic" x="4" y="4" width="8" height="9" rx="1"/><text class="tn" x="16" y="12">category</text><path class="dd" d="M90,7h6l-3,4z"/>
<rect class="tb" x="2" y="17" width="97" height="84"/>
<use href="#k" x="7" y="24"/><use href="#r" x="7" y="38"/><use href="#d" x="7" y="52"/><use href="#d" x="7" y="66"/><use href="#d" x="7" y="80"/><use href="#d" x="7" y="94"/>
<text class="r" x="13" y="27">cat_id INT<tspan x="13" dy="14">cat_title VARCHAR(255)</tspan><tspan x="13" dy="14">cat_pages INT</tspan><tspan x="13" dy="14">cat_subcats INT</tspan><tspan x="13" dy="14">cat_files INT</tspan><tspan x="13" dy="14">cat_hidden TINYINT</tspan></text>
<rect class="ft" x="2" y="101" width="97" height="13"/><text class="ix" x="6" y="110">Indexes</text><path class="fa" d="M91,104l4,3.5l-4,3.5z"/>
</g>

<g id="t-categorylinks" transform="translate(1743,748)">
<rect class="sh" x="2" y="2" width="133" height="132" rx="4"/><rect class="tf" width="133" height="132" rx="4"/><rect class="ic" x="4" y="4" width="8" height="9" rx="1"/><text class="tn" x="16" y="12">categorylinks</text><path class="dd" d="M122,7h6l-3,4z"/>
<rect class="tb" x="2" y="17" width="129" height="98"/>
<use href="#r" x="7" y="24"/><use href="#d" x="7" y="38"/><use href="#d" x="7" y="52"/><use href="#d" x="7" y="66"/><use href="#d" x="7" y="80"/><use href="#d" x="7" y="94"/><use href="#d" x="7" y="108"/>
<text class="r" x="13" y="27">cl_from INT<tspan x="13" dy="14">cl_to VARCHAR(255)</tspan><tspan x="13" dy="14">cl_sortkey VARBINARY(230)</tspan><tspan x="13" dy="14">cl_sortkey_prefix VARCHAR(255)</tspan><tspan x="13" dy="14">cl_timestamp TIMESTAMP</tspan><tspan x="13" dy="14">cl_collation VARBINARY(32)</tspan><tspan x="13" dy="14">cl_type ENUM(...)</tspan></text>
<rect class="ft" x="2" y="115" width="129" height="13"/><text class="ix" x="6" y="124">Indexes</text><path class="fa" d="M123,118l4,3.5l-4,3.5z"/>
</g>

<g id="t-page" transform="translate(1392,813)">
<rect class="sh" x="2" y="2" width="112" height="188" rx="4"/><rect class="tf" width="112" height="188" rx="4"/><rect class="ic" x="4" y="4" width="8" height="9" rx="1"/><text class="tn" x="16" y="12">page</text><path class="dd" d="M101,7h6l-3,4z"/>
<rect class="tb" x="2" y="17" width="108" height="154"/>
<use href="#k" x="7" y="24"/><use href="#d" x="7" y="38"/><use href="#d" x="7" y="52"/><use href="#d" x="7" y="66"/><use href="#d" x="7" y="80"/><use href="#d" x="7" y="94"/><use href="#d" x="7" y="108"/><use href="#d" x="7" y="122"/><use href="#d" x="7" y="136"/><use href="#d" x="7" y="150"/><use href="#d" x="7" y="164"/>
<text class="r" x="13" y="27">page_id INT<tspan x="13" dy="14">page_namespace INT</tspan><tspan x="13" dy="14">page_title VARCHAR(255)</tspan><tspan x="13" dy="14">page_restrictions TINYBLOB</tspan><tspan x="13" dy="14">page_counter BIGINT</tspan><tspan x="13" dy="14">page_is_redirect TINYINT</tspan><tspan x="13" dy="14">page_is_new TINYINT</tspan><tspan x="13" dy="14">page_random DOUBLE</tspan><tspan x="13" dy="14">page_touched BINARY(14)</tspan><tspan x="13" dy="14">page_latest INT</tspan><tspan x="13" dy="14">page_len INT</tspan></text>
<rect class="ft" x="2" y="171" width="108" height="13"/><text class="ix" x="6" y="180">Indexes</text><path class="fa" d="M102,174l4,3.5l-4,3.5z"/>
</g>

<g id="t-recentchanges" transform="translate(950,854)">
<rect class="sh" x="2" y="2" width="134" height="398" rx="4"/><rect class="tf" width="134" height="398" rx="4"/><rect class="ic" x="4" y="4" width="8" height="9" rx="1"/><text class="tn" x="16" y="12">recentchanges</text><path class="dd" d="M123,7h6l-3,4z"/>
<rect class="tb" x="2" y="17" width="130" height="364"/>
<use href="#k" x="7" y="24"/><use href="#d" x="7" y="38"/><use href="#d" x="7" y="52"/><use href="#d" x="7" y="66"/><use href="#d" x="7" y="80"/><use href="#d" x="7" y="94"/><use href="#d" x="7" y="108"/><use href="#d" x="7" y="122"/><use href="#d" x="7" y="136"/><use href="#d" x="7" y="150"/><use href="#d" x="7" y="164"/><use href="#d" x="7" y="178"/><use href="#d" x="7" y="192"/><use href="#d" x="7" y="206"/><use href="#d" x="7" y="220"/><use href="#d" x="7" y="234"/><use href="#d" x="7" y="248"/><use href="#d" x="7" y="262"/><use href="#d" x="7" y="276"/><use href="#h" x="7" y="290"/><use href="#h" x="7" y="304"/><use href="#d" x="7" y="318"/><use href="#d" x="7" y="332"/><use href="#h" x="7" y="346"/><use href="#h" x="7" y="360"/><use href="#h" x="7" y="374"/>
<text class="r" x="13" y="27">rc_id INT<tspan x="13" dy="14">rc_timestamp VARBINARY(14)</tspan><tspan x="13" dy="14">rc_cur_time VARBINARY(14)</tspan><tspan x="13" dy="14">rc_user INT</tspan><tspan x="13" dy="14">rc_user_text VARCHAR(255)</tspan><tspan x="13" dy="14">rc_namespace INT</tspan><tspan x="13" dy="14">rc_title VARCHAR(255)</tspan><tspan x="13" dy="14">rc_comment VARCHAR(255)</tspan><tspan x="13" dy="14">rc_minor TINYINT</tspan><tspan x="13" dy="14">rc_bot TINYINT</tspan><tspan x="13" dy="14">rc_new TINYINT</tspan><tspan x="13" dy="14">rc_cur_id INT</tspan><tspan x="13" dy="14">rc_this_oldid INT</tspan><tspan x="13" dy="14">rc_last_oldid INT</tspan><tspan x="13" dy="14">rc_type TINYINT</tspan><tspan x="13" dy="14">rc_moved_to_ns TINYINT</tspan><tspan x="13" dy="14">rc_moved_to_title VARCHAR(255)</tspan><tspan x="13" dy="14">rc_patrolled TINYINT</tspan><tspan x="13" dy="14">rc_ip VARBINARY(40)</tspan><tspan x="13" dy="14">rc_old_len INT</tspan><tspan x="13" dy="14">rc_new_len INT</tspan><tspan x="13" dy="14">rc_deleted TINYINT</tspan><tspan x="13" dy="14">rc_logid INT</tspan><tspan x="13" dy="14">rc_log_type VARBINARY(255)</tspan><tspan x="13" dy="14">rc_log_action VARBINARY(255)</tspan><tspan x="13" dy="14">rc_params BLOB</tspan></text>
<rect class="ft" x="2" y="381" width="130" height="13"/><text class="ix" x="6" y="390">Indexes</text><path class="fa" d="M124,384l4,3.5l-4,3.5z"/>
</g>

<g id="t-archive" transform="translate(746,995)">
<rect class="sh" x="2" y="2" width="115" height="258" rx="4"/><rect class="tf" width="115" height="258" rx="4"/><rect class="ic" x="4" y="4" width="8" height="9" rx="1"/><text class="tn" x="16" y="12">archive</text><path class="dd" d="M104,7h6l-3,4z"/>
<rect class="tb" x="2" y="17" width="111" height="224"/>
<use href="#d" x="7" y="24"/><use href="#d" x="7" y="38"/><use href="#d" x="7" y="52"/><use href="#d" x="7" y="66"/><use href="#d" x="7" y="80"/><use href="#d" x="7" y="94"/><use href="#d" x="7" y="108"/><use href="#d" x="7" y="122"/><use href="#d" x="7" y="136"/><use href="#h" x="7" y="150"/><use href="#h" x="7" y="164"/><use href="#d" x="7" y="178"/><use href="#h" x="7" y="192"/><use href="#h" x="7" y="206"/><use href="#h" x="7" y="220"/><use href="#d" x="7" y="234"/>
<text class="r" x="13" y="27">ar_namespace INT<tspan x="13" dy="14">ar_title VARCHAR(255)</tspan><tspan x="13" dy="14">ar_text MEDIUMBLOB</tspan><tspan x="13" dy="14">ar_comment TINYBLOB</tspan><tspan x="13" dy="14">ar_user INT</tspan><tspan x="13" dy="14">ar_user_text VARCHAR(255)</tspan><tspan x="13" dy="14">ar_timestamp BINARY(14)</tspan><tspan x="13" dy="14">ar_minor_edit TINYINT</tspan><tspan x="13" dy="14">ar_flags TINYBLOB</tspan><tspan x="13" dy="14">ar_rev_id INT</tspan><tspan x="13" dy="14">ar_text_id INT</tspan><tspan x="13" dy="14">ar_deleted TINYINT</tspan><tspan x="13" dy="14">ar_len INT</tspan><tspan x="13" dy="14">ar_page_id INT</tspan><tspan x="13" dy="14">ar_parent_id INT</tspan><tspan x="13" dy="14">ar_sha1 VARBINARY(32)</tspan></text>
<rect class="ft" x="2" y="241" width="111" height="13"/><text class="ix" x="6" y="250">Indexes</text><path class="fa" d="M105,244l4,3.5l-4,3.5z"/>
</g>

<g id="t-redirect" transform="translate(1128,1032)">
<rect class="sh" x="2" y="2" width="114" height="104" rx="4"/><rect class="tf" width="114" height="104" rx="4"/><rect class="ic" x="4" y="4" width="8" height="9" rx="1"/><text class="tn" x="16" y="12">redirect</text><path class="dd" d="M103,7h6l-3,4z"/>
<rect class="tb" x="2" y="17" width="110" height="70"/>
<use href="#k" x="7" y="24"/><use href="#d" x="7" y="38"/><use href="#d" x="7" y="52"/><use href="#h" x="7" y="66"/><use href="#h" x="7" y="80"/>
<text class="r" x="13" y="27">rd_from INT<tspan x="13" dy="14">rd_namespace INT</tspan><tspan x="13" dy="14">rd_title VARCHAR(255)</tspan><tspan x="13" dy="14">rd_interwiki VARCHAR(32)</tspan><tspan x="13" dy="14">rd_fragment VARCHAR(255)</tspan></text>
<rect class="ft" x="2" y="87" width="110" height="13"/><text class="ix" x="6" y="96">Indexes</text><path class="fa" d="M104,90l4,3.5l-4,3.5z"/>
</g>

<g id="t-searchindex" transform="translate(1765,988)">
<rect class="sh" x="2" y="2" width="94" height="76" rx="4"/><rect class="tf" width="94" height="76" rx="4"/><rect class="ic" x="4" y="4" width="8" height="9" rx="1"/><text class="tn" x="16" y="12">searchindex</text><path class="dd" d="M83,7h6l-3,4z"/>
<rect class="tb" x="2" y="17" width="90" height="42"/>
<use href="#d" x="7" y="24"/><use href="#d" x="7" y="38"/><use href="#d" x="7" y="52"/>
<text class="r" x="13" y="27">si_page INT<tspan x="13" dy="14">si_title VARCHAR(255)</tspan><tspan x="13" dy="14">si_text MEDIUMTEXT</tspan></text>
<rect class="ft" x="2" y="59" width="90" height="13"/><text class="ix" x="6" y="68">Indexes</text><path class="fa" d="M84,62l4,3.5l-4,3.5z"/>
</g>

<g id="t-page_restrictions" transform="translate(1306,1108)">
<rect class="sh" x="2" y="2" width="106" height="132" rx="4"/><rect class="tf" width="106" height="132" rx="4"/><rect class="ic" x="4" y="4" width="8" height="9" rx="1"/><text class="tn" x="16" y="12">page_restrictions</text><path class="dd" d="M95,7h6l-3,4z"/>
<rect class="tb" x="2" y="17" width="102" height="98"/>
<use href="#r" x="7" y="24"/><use href="#d" x="7" y="38"/><use href="#d" x="7" y="52"/><use href="#d" x="7" y="66"/><use href="#h" x="7" y="80"/><use href="#h" x="7" y="94"/><use href="#k" x="7" y="108"/>
<text class="r" x="13" y="27">pr_page INT<tspan x="13" dy="14">pr_type VARBINARY(60)</tspan><tspan x="13" dy="14">pr_level VARBINARY(60)</tspan><tspan x="13" dy="14">pr_cascade TINYINT</tspan><tspan x="13" dy="14">pr_user INT</tspan><tspan x="13" dy="14">pr_expiry VARBINARY(14)</tspan><tspan x="13" dy="14">pr_id INT</tspan></text>
<rect class="ft" x="2" y="115" width="102" height="13"/><text class="ix" x="6" y="124">Indexes</text><path class="fa" d="M96,118l4,3.5l-4,3.5z"/>
</g>

<g id="t-page_props" transform="translate(1461,1108)">
<rect class="sh" x="2" y="2" width="123" height="76" rx="4"/><rect class="tf" width="123" height="76" rx="4"/><rect class="ic" x="4" y="4" width="8" height="9" rx="1"/><text class="tn" x="16" y="12">page_props</text><path class="dd" d="M112,7h6l-3,4z"/>
<rect class="tb" x="2" y="17" width="119" height="42"/>
<use href="#d" x="7" y="24"/><use href="#d" x="7" y="38"/><use href="#d" x="7" y="52"/>
<text class="r" x="13" y="27">pp_page INT<tspan x="13" dy="14">pp_propname VARBINARY(60)</tspan><tspan x="13" dy="14">pp_value BLOB</tspan></text>
<rect class="ft" x="2" y="59" width="119" height="13"/><text class="ix" x="6" y="68">Indexes</text><path class="fa" d="M113,62l4,3.5l-4,3.5z"/>
</g>

<g id="t-protected_titles" transform="translate(1617,1108)">
<rect class="sh" x="2" y="2" width="130" height="132" rx="4"/><rect class="tf" width="130" height="132" rx="4"/><rect class="ic" x="4" y="4" width="8" height="9" rx="1"/><text class="tn" x="16" y="12">protected_titles</text><path class="dd" d="M119,7h6l-3,4z"/>
<rect class="tb" x="2" y="17" width="126" height="98"/>
<use href="#d" x="7" y="24"/><use href="#d" x="7" y="38"/><use href="#d" x="7" y="52"/><use href="#d" x="7" y="66"/><use href="#d" x="7" y="80"/><use href="#d" x="7" y="94"/><use href="#d" x="7" y="108"/>
<text class="r" x="13" y="27">pt_namespace INT<tspan x="13" dy="14">pt_title VARCHAR(255)</tspan><tspan x="13" dy="14">pt_user INT</tspan><tspan x="13" dy="14">pt_reason TINYBLOB</tspan><tspan x="13" dy="14">pt_timestamp BINARY(14)</tspan><tspan x="13" dy="14">pt_expiry VARBINARY(14)</tspan><tspan x="13" dy="14">pt_create_perm VARBINARY(60)</tspan></text>
<rect class="ft" x="2" y="115" width="126" height="13"/><text class="ix" x="6" y="124">Indexes</text><path class="fa" d="M120,118l4,3.5l-4,3.5z"/>
</g>

<g id="t-filearchive" transform="translate(58,768)">
<rect class="sh" x="2" y="2" width="137" height="328" rx="4"/><rect class="tf" width="137" height="328" rx="4"/><rect class="ic" x="4" y="4" width="8" height="9" rx="1"/><text class="tn" x="16" y="12">filearchive</text><path class="dd" d="M126,7h6l-3,4z"/>
<rect class="tb" x="2" y="17" width="133" height="294"/>
<use href="#k" x="7" y="24"/><use href="#d" x="7" y="38"/><use href="#h" x="7" y="52"/><use href="#h" x="7" y="66"/><use href="#h" x="7" y="80"/><use href="#h" x="7" y="94"/><use href="#h" x="7" y="108"/><use href="#h" x="7" y="122"/><use href="#h" x="7" y="136"/><use href="#h" x="7" y="150"/><use href="#h" x="7" y="164"/><use href="#h" x="7" y="178"/><use href="#h" x="7" y="192"/><use href="#h" x="7" y="206"/><use href="#h" x="7" y="220"/><use href="#h" x="7" y="234"/><use href="#h" x="7" y="248"/><use href="#h" x="7" y="262"/><use href="#h" x="7" y="276"/><use href="#h" x="7" y="290"/><use href="#d" x="7" y="304"/>
<text class="r" x="13" y="27">fa_id INT<tspan x="13" dy="14">fa_name VARCHAR(255)</tspan><tspan x="13" dy="14">fa_archive_name VARCHAR(255)</tspan><tspan x="13" dy="14">fa_storage_group VARBINARY(16)</tspan><tspan x="13" dy="14">fa_storage_key VARBINARY(64)</tspan><tspan x="13" dy="14">fa_deleted_user INT</tspan><tspan x="13" dy="14">fa_deleted_timestamp BINARY(14)</tspan><tspan x="13" dy="14">fa_deleted_reason TEXT</tspan><tspan x="13" dy="14">fa_size INT</tspan><tspan x="13" dy="14">fa_width INT</tspan><tspan x="13" dy="14">fa_height INT</tspan><tspan x="13" dy="14">fa_metadata MEDIUMBLOB</tspan><tspan x="13" dy="14">fa_bits INT</tspan><tspan x="13" dy="14">fa_media_type ENUM(...)</tspan><tspan x="13" dy="14">fa_major_mime ENUM(...)</tspan><tspan x="13" dy="14">fa_minor_mime VARBINARY(100)</tspan><tspan x="13" dy="14">fa_description TINYBLOB</tspan><tspan x="13" dy="14">fa_user INT</tspan><tspan x="13" dy="14">fa_user_text VARCHAR(255)</tspan><tspan x="13" dy="14">fa_timestamp BINARY(14)</tspan><tspan x="13" dy="14">fa_deleted TINYINT</tspan></text>
<rect class="ft" x="2" y="311" width="133" height="13"/><text class="ix" x="6" y="320">Indexes</text><path class="fa" d="M127,314l4,3.5l-4,3.5z"/>
</g>

<g id="t-image" transform="translate(242,755)">
<rect class="sh" x="2" y="2" width="140" height="230" rx="4"/><rect class="tf" width="140" height="230" rx="4"/><rect class="ic" x="4" y="4" width="8" height="9" rx="1"/><text class="tn" x="16" y="12">image</text><path class="dd" d="M129,7h6l-3,4z"/>
<rect class="tb" x="2" y="17" width="136" height="196"/>
<use href="#k" x="7" y="24"/><use href="#d" x="7" y="38"/><use href="#d" x="7" y="52"/><use href="#d" x="7" y="66"/><use href="#d" x="7" y="80"/><use href="#d" x="7" y="94"/><use href="#h" x="7" y="108"/><use href="#d" x="7" y="122"/><use href="#d" x="7" y="136"/><use href="#d" x="7" y="150"/><use href="#r" x="7" y="164"/><use href="#d" x="7" y="178"/><use href="#d" x="7" y="192"/><use href="#d" x="7" y="206"/>
<text class="r" x="13" y="27">img_name VARCHAR(255)<tspan x="13" dy="14">img_size INT</tspan><tspan x="13" dy="14">img_width INT</tspan><tspan x="13" dy="14">img_height INT</tspan><tspan x="13" dy="14">img_metadata MEDIUMBLOB</tspan><tspan x="13" dy="14">img_bits INT</tspan><tspan x="13" dy="14">img_media_type ENUM(...)</tspan><tspan x="13" dy="14">img_major_mime ENUM(...)</tspan><tspan x="13" dy="14">img_minor_mime VARBINARY(100)</tspan><tspan x="13" dy="14">img_description TINYBLOB</tspan><tspan x="13" dy="14">img_user INT</tspan><tspan x="13" dy="14">img_user_text VARCHAR(255)</tspan><tspan x="13" dy="14">img_timestamp VARBINARY(14)</tspan><tspan x="13" dy="14">img_sha1 VARBINARY(32)</tspan></text>
<rect class="ft" x="2" y="213" width="136" height="13"/><text class="ix" x="6" y="222">Indexes</text><path class="fa" d="M130,216l4,3.5l-4,3.5z"/>
</g>

<g id="t-oldimage" transform="translate(526,768)">
<rect class="sh" x="2" y="2" width="132" height="258" rx="4"/><rect class="tf" width="132" height="258" rx="4"/><rect class="ic" x="4" y="4" width="8" height="9" rx="1"/><text class="tn" x="16" y="12">oldimage</text><path class="dd" d="M121,7h6l-3,4z"/>
<rect class="tb" x="2" y="17" width="128" height="224"/>
<use href="#d" x="7" y="24"/><use href="#d" x="7" y="38"/><use href="#d" x="7" y="52"/><use href="#d" x="7" y="66"/><use href="#d" x="7" y="80"/><use href="#d" x="7" y="94"/><use href="#d" x="7" y="108"/><use href="#r" x="7" y="122"/><use href="#d" x="7" y="136"/><use href="#d" x="7" y="150"/><use href="#d" x="7" y="164"/><use href="#h" x="7" y="178"/><use href="#d" x="7" y="192"/><use href="#d" x="7" y="206"/><use href="#d" x="7" y="220"/><use href="#d" x="7" y="234"/>
<text class="r" x="13" y="27">oi_name VARCHAR(255)<tspan x="13" dy="14">oi_archive_name VARCHAR(255)</tspan><tspan x="13" dy="14">oi_size INT</tspan><tspan x="13" dy="14">oi_width INT</tspan><tspan x="13" dy="14">oi_height INT</tspan><tspan x="13" dy="14">oi_bits INT</tspan><tspan x="13" dy="14">oi_description TINYBLOB</tspan><tspan x="13" dy="14">oi_user INT</tspan><tspan x="13" dy="14">oi_user_text VARCHAR(255)</tspan><tspan x="13" dy="14">oi_timestamp BINARY(14)</tspan><tspan x="13" dy="14">oi_metadata MEDIUMBLOB</tspan><tspan x="13" dy="14">oi_media_type ENUM(...)</tspan><tspan x="13" dy="14">oi_major_mime ENUM(...)</tspan><tspan x="13" dy="14">oi_minor_mime VARBINARY(100)</tspan><tspan x="13" dy="14">oi_deleted TINYINT</tspan><tspan x="13" dy="14">oi_sha1 VARBINARY(32)</tspan></text>
<rect class="ft" x="2" y="241" width="128" height="13"/><text class="ix" x="6" y="250">Indexes</text><path class="fa" d="M122,244l4,3.5l-4,3.5z"/>
</g>

<g id="t-uploadstash" transform="translate(242,1051)">
<rect class="sh" x="2" y="2" width="124" height="244" rx="4"/><rect class="tf" width="124" height="244" rx="4"/><rect class="ic" x="4" y="4" width="8" height="9" rx="1"/><text class="tn" x="16" y="12">uploadstash</text><path class="dd" d="M113,7h6l-3,4z"/>
<rect class="tb" x="2" y="17" width="120" height="210"/>
<use href="#k" x="7" y="24"/><use href="#d" x="7" y="38"/><use href="#d" x="7" y="52"/><use href="#d" x="7" y="66"/><use href="#d" x="7" y="80"/><use href="#h" x="7" y="94"/><use href="#d" x="7" y="108"/><use href="#d" x="7" y="122"/><use href="#d" x="7" y="136"/><use href="#d" x="7" y="150"/><use href="#h" x="7" y="164"/><use href="#h" x="7" y="178"/><use href="#h" x="7" y="192"/><use href="#h" x="7" y="206"/><use href="#h" x="7" y="220"/>
<text class="r" x="13" y="27">us_id INT<tspan x="13" dy="14">us_user INT</tspan><tspan x="13" dy="14">us_key VARCHAR(255)</tspan><tspan x="13" dy="14">us_orig_path VARCHAR(255)</tspan><tspan x="13" dy="14">us_path VARCHAR(255)</tspan><tspan x="13" dy="14">us_source_type VARCHAR(50)</tspan><tspan x="13" dy="14">us_timestamp VARBINARY(14)</tspan><tspan x="13" dy="14">us_status VARCHAR(50)</tspan><tspan x="13" dy="14">us_size INT</tspan><tspan x="13" dy="14">us_sha1 VARCHAR(31)</tspan><tspan x="13" dy="14">us_mime VARCHAR(255)</tspan><tspan x="13" dy="14">us_media_type ENUM(...)</tspan><tspan x="13" dy="14">us_image_width INT</tspan><tspan x="13" dy="14">us_image_height INT</tspan><tspan x="13" dy="14">us_image_bits SMALLINT</tspan></text>
<rect class="ft" x="2" y="227" width="120" height="13"/><text class="ix" x="6" y="236">Indexes</text><path class="fa" d="M114,230l4,3.5l-4,3.5z"/>
</g>

<g id="t-imagelinks" transform="translate(413,1117)">
<rect class="sh" x="2" y="2" width="86" height="62" rx="4"/><rect class="tf" width="86" height="62" rx="4"/><rect class="ic" x="4" y="4" width="8" height="9" rx="1"/><text class="tn" x="16" y="12">imagelinks</text><path class="dd" d="M75,7h6l-3,4z"/>
<rect class="tb" x="2" y="17" width="82" height="28"/>
<use href="#d" x="7" y="24"/><use href="#d" x="7" y="38"/>
<text class="r" x="13" y="27">il_from INT<tspan x="13" dy="14">il_to VARCHAR(255)</tspan></text>
<rect class="ft" x="2" y="45" width="82" height="13"/><text class="ix" x="6" y="54">Indexes</text><path class="fa" d="M76,48l4,3.5l-4,3.5z"/>
</g>

<g id="t-msg_resource" transform="translate(57,1398)">
<rect class="sh" x="2" y="2" width="125" height="90" rx="4"/><rect class="tf" width="125" height="90" rx="4"/><rect class="ic" x="4" y="4" width="8" height="9" rx="1"/><text class="tn" x="16" y="12">msg_resource</text><path class="dd" d="M114,7h6l-3,4z"/>
<rect class="tb" x="2" y="17" width="121" height="56"/>
<use href="#d" x="7" y="24"/><use href="#d" x="7" y="38"/><use href="#d" x="7" y="52"/><use href="#d" x="7" y="66"/>
<text class="r" x="13" y="27">mr_resource VARBINARY(255)<tspan x="13" dy="14">mr_lang VARBINARY(32)</tspan><tspan x="13" dy="14">mr_blob MEDIUMBLOB</tspan><tspan x="13" dy="14">mr_timestamp BINARY(14)</tspan></text>
<rect class="ft" x="2" y="73" width="121" height="13"/><text class="ix" x="6" y="82">Indexes</text><path class="fa" d="M115,76l4,3.5l-4,3.5z"/>
</g>

<g id="t-msg_resource_links" transform="translate(233,1398)">
<rect class="sh" x="2" y="2" width="128" height="62" rx="4"/><rect class="tf" width="128" height="62" rx="4"/><rect class="ic" x="4" y="4" width="8" height="9" rx="1"/><text class="tn" x="16" y="12">msg_resource_links</text><path class="dd" d="M117,7h6l-3,4z"/>
<rect class="tb" x="2" y="17" width="124" height="28"/>
<use href="#d" x="7" y="24"/><use href="#d" x="7" y="38"/>
<text class="r" x="13" y="27">mrl_resource VARBINARY(255)<tspan x="13" dy="14">mrl_message VARBINARY(255)</tspan></text>
<rect class="ft" x="2" y="45" width="124" height="13"/><text class="ix" x="6" y="54">Indexes</text><path class="fa" d="M118,48l4,3.5l-4,3.5z"/>
</g>

<g id="t-module_deps" transform="translate(419,1398)">
<rect class="sh" x="2" y="2" width="120" height="76" rx="4"/><rect class="tf" width="120" height="76" rx="4"/><rect class="ic" x="4" y="4" width="8" height="9" rx="1"/><text class="tn" x="16" y="12">module_deps</text><path class="dd" d="M109,7h6l-3,4z"/>
<rect class="tb" x="2" y="17" width="116" height="42"/>
<use href="#d" x="7" y="24"/><use href="#d" x="7" y="38"/><use href="#d" x="7" y="52"/>
<text class="r" x="13" y="27">md_module VARBINARY(255)<tspan x="13" dy="14">md_skin VARBINARY(32)</tspan><tspan x="13" dy="14">md_deps MEDIUMBLOB</tspan></text>
<rect class="ft" x="2" y="59" width="116" height="13"/><text class="ix" x="6" y="68">Indexes</text><path class="fa" d="M110,62l4,3.5l-4,3.5z"/>
</g>

<g id="t-change_tag" transform="translate(731,1391)">
<rect class="sh" x="2" y="2" width="94" height="104" rx="4"/><rect class="tf" width="94" height="104" rx="4"/><rect class="ic" x="4" y="4" width="8" height="9" rx="1"/><text class="tn" x="16" y="12">change_tag</text><path class="dd" d="M83,7h6l-3,4z"/>
<rect class="tb" x="2" y="17" width="90" height="70"/>
<use href="#h" x="7" y="24"/><use href="#h" x="7" y="38"/><use href="#h" x="7" y="52"/><use href="#d" x="7" y="66"/><use href="#h" x="7" y="80"/>
<text class="r" x="13" y="27">ct_rc_id INT<tspan x="13" dy="14">ct_log_id INT</tspan><tspan x="13" dy="14">ct_rev_id INT</tspan><tspan x="13" dy="14">ct_tag VARCHAR(255)</tspan><tspan x="13" dy="14">ct_params BLOB</tspan></text>
<rect class="ft" x="2" y="87" width="90" height="13"/><text class="ix" x="6" y="96">Indexes</text><path class="fa" d="M84,90l4,3.5l-4,3.5z"/>
</g>

<g id="t-tag_summary" transform="translate(908,1398)">
<rect class="sh" x="2" y="2" width="90" height="90" rx="4"/><rect class="tf" width="90" height="90" rx="4"/><rect class="ic" x="4" y="4" width="8" height="9" rx="1"/><text class="tn" x="16" y="12">tag_summary</text><path class="dd" d="M79,7h6l-3,4z"/>
<rect class="tb" x="2" y="17" width="86" height="56"/>
<use href="#h" x="7" y="24"/><use href="#h" x="7" y="38"/><use href="#h" x="7" y="52"/><use href="#d" x="7" y="66"/>
<text class="r" x="13" y="27">ts_rc_id INT<tspan x="13" dy="14">ts_log_id INT</tspan><tspan x="13" dy="14">ts_rev_id INT</tspan><tspan x="13" dy="14">ts_tags BLOB</tspan></text>
<rect class="ft" x="2" y="73" width="86" height="13"/><text class="ix" x="6" y="82">Indexes</text><path class="fa" d="M80,76l4,3.5l-4,3.5z"/>
</g>

<g id="t-valid_tag" transform="translate(1057,1391)">
<rect class="sh" x="2" y="2" width="92" height="48" rx="4"/><rect class="tf" width="92" height="48" rx="4"/><rect class="ic" x="4" y="4" width="8" height="9" rx="1"/><text class="tn" x="16" y="12">valid_tag</text><path class="dd" d="M81,7h6l-3,4z"/>
<rect class="tb" x="2" y="17" width="88" height="14"/>
<use href="#k" x="7" y="24"/>
<text class="r" x="13" y="27">vt_tag VARCHAR(255)</text>
<rect class="ft" x="2" y="31" width="88" height="13"/><text class="ix" x="6" y="40">Indexes</text><path class="fa" d="M82,34l4,3.5l-4,3.5z"/>
</g>

<g id="notes">
<rect class="nb" x="54" y="310" width="175" height="26"/><text class="nt" x="59" y="320">IPBLOCKS table stores details of IP addresses<tspan x="59" dy="10">and users who have been blocked from editing.</tspan></text>
<rect class="nb" x="994" y="27" width="88" height="34"/><text class="nt" x="999" y="37">external_user tracks<tspan x="999" dy="10">external user accounts,</tspan><tspan x="999" dy="10">if ExternalAuth is used.</tspan></text>
<rect class="nb" x="1156" y="112" width="110" height="45"/><text class="nt" x="1161" y="122">Objectcache table is used for<tspan x="1161" dy="10">a few generic cache</tspan><tspan x="1161" dy="10">operations if not using</tspan><tspan x="1161" dy="10">Memcached</tspan></text>
<rect class="nb" x="1304" y="103" width="112" height="25"/><text class="nt" x="1309" y="113">Holds site configuration</text>
<rect class="nb" x="1475" y="113" width="124" height="17"/><text class="nt" x="1480" y="124">Table for storing localisation data</text>
<rect class="nb" x="1765" y="27" width="88" height="35"/><text class="nt" x="1770" y="37">querycache is used for<tspan x="1770" dy="10">caching expensive</tspan><tspan x="1770" dy="10">grouped queries.</tspan></text>
<rect class="nb" x="1765" y="132" width="117" height="36"/><text class="nt" x="1770" y="142">querycache_info table contains<tspan x="1770" dy="10">details of updates to cached</tspan><tspan x="1770" dy="10">special pages.</tspan></text>
<rect class="nb" x="1900" y="190" width="132" height="45"/><text class="nt" x="1905" y="200">querycachetwo is a table used for<tspan x="1905" dy="10">caching expensive grouped queries</tspan><tspan x="1905" dy="10">that need two links</tspan><tspan x="1905" dy="10">(for example double-redirects)</tspan></text>
<rect class="nb" x="1405" y="217" width="95" height="33"/><text class="nt" x="1410" y="227">The transcache table is a<tspan x="1410" dy="10">cache of interwiki</tspan><tspan x="1410" dy="10">transclusion.</tspan></text>
<rect class="nb" x="1156" y="445" width="138" height="24"/><text class="nt" x="1161" y="455">Records whether individual testitems<tspan x="1161" dy="10">in a run succeeded or failed.</tspan></text>
<rect class="nb" x="1335" y="443" width="114" height="37"/><text class="nt" x="1340" y="454">Summary of a testrun - when it<tspan x="1340" dy="10">was run, the data, MW version,</tspan><tspan x="1340" dy="10">PHP version etc.</tspan></text>
<rect class="nb" x="1534" y="462" width="101" height="18"/><text class="nt" x="1539" y="474">Stores trackback requests.</text>
<rect class="nb" x="1660" y="435" width="133" height="28"/><text class="nt" x="1665" y="446">Jobs performed by parallel apache<tspan x="1665" dy="10">threads or a command-line daemon.</tspan></text>
<rect class="nb" x="1794" y="395" width="106" height="27"/><text class="nt" x="1799" y="406">A table to log updates,<tspan x="1799" dy="10">one text key row per update.</tspan></text>
<rect class="nb" x="1929" y="450" width="94" height="38"/><text class="nt" x="1934" y="461">The interwiki table stores<tspan x="1934" dy="10">the interwiki prefixes with</tspan><tspan x="1934" dy="10">their targets.</tspan></text>
<rect class="nb" x="53" y="597" width="96" height="32"/><text class="nt" x="58" y="607">Contains a single row<tspan x="58" dy="10">with some aggregate info</tspan><tspan x="58" dy="10">on the state of the site.</tspan></text>
<rect class="nb" x="165" y="631" width="110" height="24"/><text class="nt" x="170" y="641">Every log action in MediaWiki<tspan x="170" dy="10">as seen on Special:Log</tspan></text>
<rect class="nb" x="372" y="617" width="179" height="52"/><text class="nt" x="377" y="627">The hitcounter table in MediaWiki is a temporary<tspan x="377" dy="10">buffer for storage of page view information.</tspan><tspan x="377" dy="10">Stores the page_id value of any pages that where</tspan><tspan x="377" dy="10">visited. The page table's page_counter is</tspan><tspan x="377" dy="10">periodically increased based on this.</tspan></text>
<rect class="nb" x="902" y="588" width="116" height="24"/><text class="nt" x="907" y="598">The text table holds the wikitext<tspan x="907" dy="10">of individual page revisions.</tspan></text>
<rect class="nb" x="1031" y="565" width="176" height="45"/><text class="nt" x="1036" y="575">Templatelinks contains for each current page<tspan x="1036" dy="10">inclusion the id of the host page, the namespace</tspan><tspan x="1036" dy="10">number of the included page, and its title</tspan><tspan x="1036" dy="10">without namespace.</tspan></text>
<rect class="nb" x="1220" y="565" width="103" height="45"/><text class="nt" x="1225" y="575">The iwlinks table stores the<tspan x="1225" dy="10">interwiki links with their</tspan><tspan x="1225" dy="10">targets. Not to confuse with</tspan><tspan x="1225" dy="10">the langlinks table.</tspan></text>
<rect class="nb" x="1341" y="581" width="81" height="24"/><text class="nt" x="1346" y="591">langlinks table tracks<tspan x="1346" dy="10">interlanguage links.</tspan></text>
<rect class="nb" x="1461" y="572" width="86" height="34"/><text class="nt" x="1466" y="582">The externallinks table<tspan x="1466" dy="10">stores and tracks</tspan><tspan x="1466" dy="10">external links.</tspan></text>
<rect class="nb" x="1568" y="586" width="121" height="17"/><text class="nt" x="1573" y="597">pagelinks tracks all internal links.</text>
<rect class="nb" x="1745" y="565" width="155" height="36"/><text class="nt" x="1750" y="575">Track all existing categories. Something is<tspan x="1750" dy="10">a category if 1) it has an entry somewhere</tspan><tspan x="1750" dy="10">in categorylinks, or 2) it once did.</tspan></text>
<rect class="nb" x="1736" y="890" width="155" height="55"/><text class="nt" x="1741" y="900">The categorylinks table stores entries on a<tspan x="1741" dy="10">page of the type [Category:Abc], which</tspan><tspan x="1741" dy="10">places the page into the category "Abc"</tspan><tspan x="1741" dy="10">(for which an associated page may or</tspan><tspan x="1741" dy="10">may not exist).</tspan></text>
<rect class="nb" x="1766" y="1076" width="129" height="64"/><text class="nt" x="1771" y="1086">The searchindex table is used to<tspan x="1771" dy="10">provide full text searches. Those</tspan><tspan x="1771" dy="10">can only be done with the MyISAM</tspan><tspan x="1771" dy="10">table type and the text table uses</tspan><tspan x="1771" dy="10">the InnoDB type to improve</tspan><tspan x="1771" dy="10">concurrency, so a copy is required.</tspan></text>
<rect class="nb" x="1130" y="1148" width="144" height="64"/><text class="nt" x="1135" y="1158">The redirect table contains for each<tspan x="1135" dy="10">page that is currently a redirect (i.e.,</tspan><tspan x="1135" dy="10">not for old revisions which were</tspan><tspan x="1135" dy="10">redirects) the id of the source page,</tspan><tspan x="1135" dy="10">the target namespace number, and</tspan><tspan x="1135" dy="10">the target page title without namespace.</tspan></text>
<rect class="nb" x="1306" y="1253" width="130" height="54"/><text class="nt" x="1311" y="1263">The page_restrictions table is used<tspan x="1311" dy="10">to store page protection levels.</tspan><tspan x="1311" dy="10">The most notable feature is the</tspan><tspan x="1311" dy="10">introduction of cascading page</tspan><tspan x="1311" dy="10">protections for high-visibility pages.</tspan></text>
<rect class="nb" x="58" y="1109" width="161" height="46"/><text class="nt" x="63" y="1119">The filearchive table stores all the media<tspan x="63" dy="10">that has been deleted, similar to the</tspan><tspan x="63" dy="10">archive table's job for text. This is the</tspan><tspan x="63" dy="10">table that makes image undeletion possible.</tspan></text>
<rect class="nb" x="243" y="1002" width="165" height="36"/><text class="nt" x="248" y="1012">The image table describes images and<tspan x="248" dy="10">other uploaded files. However, the image</tspan><tspan x="248" dy="10">description pages are stored like other pages.</tspan></text>
<rect class="nb" x="520" y="1045" width="150" height="46"/><text class="nt" x="525" y="1055">This table holds information about old<tspan x="525" dy="10">revisions of files. It will be filled when</tspan><tspan x="525" dy="10">one uploads a new version of an existing</tspan><tspan x="525" dy="10">file to the wiki.</tspan></text>
<rect class="nb" x="512" y="1121" width="149" height="47"/><text class="nt" x="517" y="1131">The imagelinks table stores all the links<tspan x="517" dy="10">to files. This is good for a variety of</tspan><tspan x="517" dy="10">functions, from link caching in the output</tspan><tspan x="517" dy="10">functions to the "what links here" page.</tspan></text>
<rect class="nb" x="379" y="1258" width="150" height="36"/><text class="nt" x="384" y="1268">The upload stash table stores information<tspan x="384" dy="10">about newly uploaded files before they're</tspan><tspan x="384" dy="10">moved into the actual filestore.</tspan></text>
<rect class="nb" x="57" y="1496" width="123" height="30"/><text class="nt" x="62" y="1507">Table for storing JSON message<tspan x="62" dy="10">blobs for the resource loader.</tspan></text>
<rect class="nb" x="236" y="1466" width="150" height="32"/><text class="nt" x="241" y="1477">Table for administering which<tspan x="241" dy="10">message is contained in which resource.</tspan></text>
<rect class="nb" x="421" y="1481" width="126" height="44"/><text class="nt" x="426" y="1492">Table for tracking which local files<tspan x="426" dy="10">a module depends on that aren't</tspan><tspan x="426" dy="10">registered directly.</tspan></text>
<rect class="nb" x="731" y="1503" width="132" height="30"/><text class="nt" x="736" y="1514">A table to track tags for<tspan x="736" dy="10">revisions, logs and recent changes.</tspan></text>
<rect class="nb" x="908" y="1501" width="121" height="40"/><text class="nt" x="913" y="1512">tag_summary is a rollup table<tspan x="913" dy="10">to pull a LIST of tags simply</tspan><tspan x="913" dy="10">without ugly GROUP_CONCAT</tspan></text>
<rect class="nb" x="1057" y="1448" width="95" height="30"/><text class="nt" x="1062" y="1459">The valid_tag contains a<tspan x="1062" dy="10">list of defined tags.</tspan></text>
</g>
</svg>
